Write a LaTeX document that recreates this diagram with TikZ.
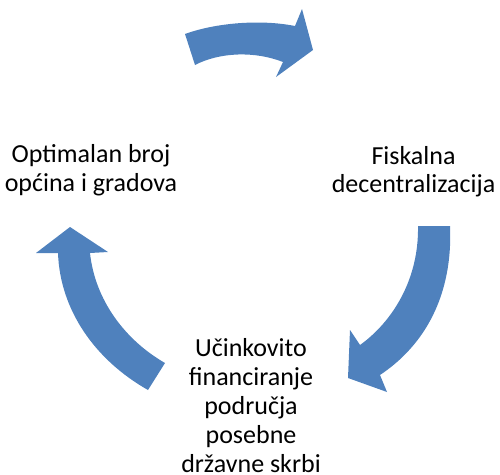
\documentclass[tikz,border=0pt]{standalone}
\usepackage{fontspec}
\setmainfont{Carlito}
\usepackage{xcolor}
\usepackage{tikz}
\usetikzlibrary{positioning, calc}
\definecolor{arrowblue}{RGB}{79,129,189}
\tikzset{
    cyclearrow/.style={fill=arrowblue, draw=none},
    cycletext/.style={font=\fontsize{26}{28.5}\selectfont, align=center, inner sep=0pt}
}

\begin{document}
\begin{tikzpicture}[x=1pt, y=-1pt]
    \useasboundingbox (0,0) rectangle (500,474);

    % Three steps of the cycle
    \node[cycletext] (broj) at (91,170) {Optimalan broj\\općina i gradova};
    \node[cycletext] (fiskalna) at (413.5,171.5) {Fiskalna\\decentralizacija};
    \node[cycletext, font=\fontsize{26}{29}\selectfont] (skrb) at (251,406)
        {Učinkovito\\financiranje\\područja\\posebne\\državne skrbi};

    % Top arrow
    \fill[cyclearrow] (185,34) .. controls (215,23) and (260,19) .. (295,26)
        -- (302,9) -- (313,50) -- (276,77) -- (283,62)
        .. controls (255,51) and (220,52) .. (195,65) -- cycle;

    % Right arrow
    \fill[cyclearrow] (418,226) -- (450,226)
        .. controls (453,295) and (425,345) .. (380,375)
        -- (387,392) -- (348,378) -- (350,330) -- (360,345)
        .. controls (392,322) and (419,280) .. (418,226) -- cycle;

    % Left arrow
    \fill[cyclearrow] (58,253) -- (36,253) -- (70,227) -- (108,252) -- (90,253)
        .. controls (95,300) and (125,340) .. (165,363)
        -- (148,390)
        .. controls (95,360) and (60,310) .. (58,253) -- cycle;
\end{tikzpicture}
\end{document}
